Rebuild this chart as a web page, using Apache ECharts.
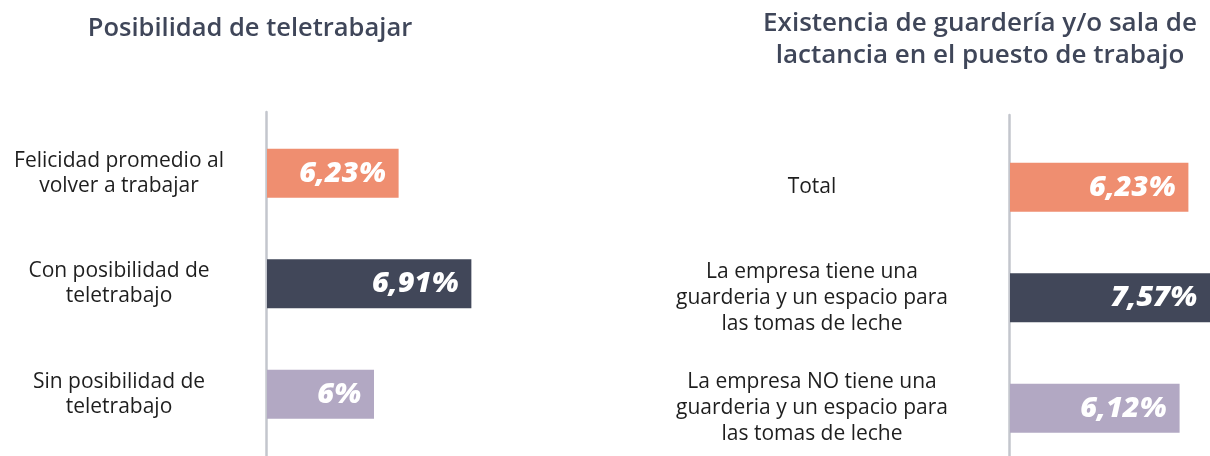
<!DOCTYPE html>
<html>
<head>
<meta charset="utf-8">
<script src="https://cdn.jsdelivr.net/npm/echarts@6/dist/echarts.min.js"></script>
<style>html,body{margin:0;padding:0;background:#fff;}#c{width:1210px;height:456px;}</style>
</head>
<body>
<div id="c"></div>
<script>
// ---- data ----
const leftTitle = 'Posibilidad de teletrabajar';
const leftCategories = ['Felicidad promedio al\nvolver a trabajar', 'Con posibilidad de\nteletrabajo', 'Sin posibilidad de\nteletrabajo'];
const leftValues = [6.23, 6.91, 6];
const rightTitle = 'Existencia de guardería y/o sala de\nlactancia en el puesto de trabajo';
const rightCategories = ['Total', 'La empresa tiene una\nguarderia y un espacio para\nlas tomas de leche', 'La empresa NO tiene una\nguarderia y un espacio para\nlas tomas de leche'];
const rightValues = [6.23, 7.57, 6.12];

// ---- styles ----
const barColors = ['#EF8E70', '#414759', '#B2A8C3'];
const axisColor = '#C3C6CD';
const titleColor = '#3F4659';
const FONT = 'Open Sans';
const fmt = v => String(v).replace('.', ',') + '%';

const labelStyle = {
  show: true, position: 'insideRight', distance: 13,
  color: '#fff', fontFamily: FONT, fontWeight: 800, fontStyle: 'italic', fontSize: 29,
  formatter: p => fmt(p.value)
};

function barData(values) {
  return values.map((v, i) => ({ value: v, itemStyle: { color: barColors[i] } }));
}

const chart = echarts.init(document.getElementById('c'), null, { renderer: 'canvas' });
chart.setOption({
  animation: false,
  title: [
    { text: leftTitle, left: 245, top: 11, textAlign: 'center',
      textStyle: { fontFamily: FONT, fontWeight: 600, fontSize: 25.5, color: titleColor } },
    { text: rightTitle, left: 975, top: 3, textAlign: 'center',
      textStyle: { fontFamily: FONT, fontWeight: 600, fontSize: 26, lineHeight: 32, color: titleColor } }
  ],
  grid: [
    { left: 267, top: 118, height: 331.5, width: 214, outerBoundsMode: 'none' },   // left bars
    { left: 1010, top: 132, height: 331.5, width: 200, outerBoundsMode: 'none' },  // right bars
    { left: 266, top: 112, bottom: 0, width: 10, outerBoundsMode: 'none' },        // left axis line
    { left: 1009, top: 115, bottom: 0, width: 10, outerBoundsMode: 'none' }        // right axis line
  ],
  xAxis: [
    { gridIndex: 0, type: 'value', min: 5, max: 7, show: false },
    { gridIndex: 1, type: 'value', min: 4, max: 6.5, show: false },
    { gridIndex: 2, type: 'value', min: 0, max: 1, show: false },
    { gridIndex: 3, type: 'value', min: 0, max: 1, show: false }
  ],
  yAxis: [
    { gridIndex: 0, type: 'category', data: leftCategories, inverse: true,
      axisLine: { show: false }, axisTick: { show: false },
      axisLabel: { margin: 148, align: 'center', fontFamily: FONT, fontSize: 21, lineHeight: 25, color: '#1E1E1E' } },
    { gridIndex: 1, type: 'category', data: rightCategories, inverse: true,
      axisLine: { show: false }, axisTick: { show: false },
      axisLabel: { margin: 198, align: 'center', fontFamily: FONT, fontSize: 21, lineHeight: 26, color: '#1E1E1E' } },
    { gridIndex: 2, type: 'value', min: 0, max: 1, splitLine: { show: false }, axisLabel: { show: false }, axisTick: { show: false },
      axisLine: { show: true, lineStyle: { color: axisColor, width: 2.5 } } },
    { gridIndex: 3, type: 'value', min: 0, max: 1, splitLine: { show: false }, axisLabel: { show: false }, axisTick: { show: false },
      axisLine: { show: true, lineStyle: { color: axisColor, width: 2.5 } } }
  ],
  series: [
    { type: 'bar', xAxisIndex: 0, yAxisIndex: 0, barWidth: 49, label: labelStyle, clip: true,
      data: barData(leftValues) },
    { type: 'bar', xAxisIndex: 1, yAxisIndex: 1, barWidth: 49, label: labelStyle, clip: true,
      data: barData(rightValues) }
  ]
});
</script>
</body>
</html>
